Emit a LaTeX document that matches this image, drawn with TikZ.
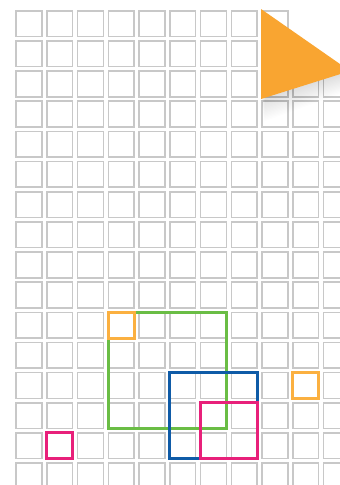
\documentclass[tikz,border=0pt]{standalone}
\definecolor{gridgray}{RGB}{200,200,200}
\definecolor{triorange}{RGB}{249,165,49}
\definecolor{boxorange}{RGB}{251,176,64}
\definecolor{boxgreen}{RGB}{106,189,69}
\definecolor{boxblue}{RGB}{15,91,167}
\definecolor{boxpink}{RGB}{232,32,122}
\newcommand\gx[1]{15.3+30.75*#1}
\newcommand\gy[1]{10+30.15*#1}
\begin{document}
\begin{tikzpicture}[x=1pt,y=-1pt,
  cell/.style={draw=gridgray,line width=1.6pt},
  hl/.style={line width=2.8pt}]
\useasboundingbox (0,0) rectangle (340,485);
\fill[white] (0,0) rectangle (340,485);
% grid
\foreach \c in {0,...,10}{
  \foreach \r in {0,...,15}{
    \pgfmathtruncatemacro\skipit{and(\c>8,\r<2)}
    \ifnum\skipit=0
      \draw[cell] ({\gx{\c}+0.8},{\gy{\r}+0.8}) rectangle ++(25.8,25.7);
    \fi
  }
}
% highlight boxes
\draw[hl,boxgreen] ({\gx{3}+0.6},{\gy{10}+0.6}) rectangle ({\gx{6}+27.4-0.6},{\gy{13}+27.3-0.6});
\draw[hl,boxblue] ({\gx{5}+0.6},{\gy{12}+0.6}) rectangle ({\gx{7}+27.4-0.6},{\gy{14}+27.3-0.6});
\draw[hl,boxpink] ({\gx{6}+0.6},{\gy{13}+0.6}) rectangle ({\gx{7}+27.4-0.6},{\gy{14}+27.3-0.6});
\draw[hl,boxpink] ({\gx{1}+0.6},{\gy{14}+0.6}) rectangle ({\gx{1}+27.4-0.6},{\gy{14}+27.3-0.6});
\draw[hl,boxorange] ({\gx{3}+0.6},{\gy{10}+0.6}) rectangle ({\gx{3}+27.4-0.6},{\gy{10}+27.3-0.6});
\draw[hl,boxorange] ({\gx{9}+0.6},{\gy{12}+0.6}) rectangle ({\gx{9}+27.4-0.6},{\gy{12}+27.3-0.6});
% soft shadow of the play triangle
\foreach \i in {1,...,16}{
  \fill[black,opacity=0.009]
    ({261+0.4*\i},{9+1.2*\i}) -- ({350+0.6*\i},{71+1.0*\i}) -- ({261+0.2*\i},{99+1.4*\i}) -- cycle;
}
% play triangle
\fill[triorange] (261,9) -- (350,71) -- (261,99) -- cycle;
\end{tikzpicture}
\end{document}
